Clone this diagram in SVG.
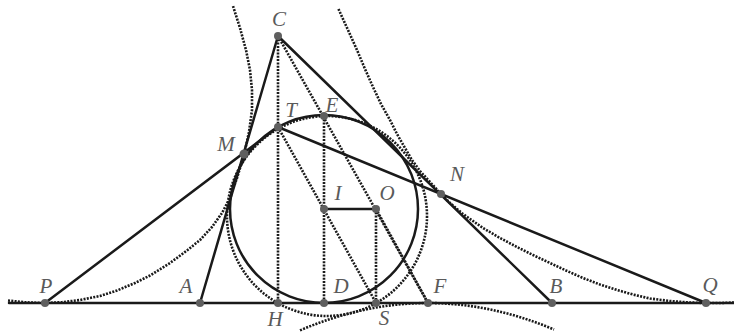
<svg xmlns="http://www.w3.org/2000/svg" width="734" height="332" viewBox="0 0 734 332">
<style>
.sol{fill:none;stroke:#1a1a1a;stroke-width:2.5;stroke-linecap:round}
.dot{fill:none;stroke:#1a1a1a;stroke-width:2.6;stroke-dasharray:2 1.3;stroke-linejoin:round}
.pt{fill:#5f5f5f}
.lb{font-family:"Liberation Serif","DejaVu Serif",serif;font-style:italic;font-size:21px;fill:#5a5a5a;text-anchor:middle}
</style>
<rect width="734" height="332" fill="#ffffff"/>
<g id="connectors">
  <polyline class="dot" points="8,300.5 25,302.3 45,303 62,302.2 80,300 100,296 117,290.5 135,283 150,275.5 170,263 187,250.5 200,240 212,227 222,213 230,198 237,178 244,155 249,132 252,110 252,90 250,70 246,50 240,28 233,6"/>
  <polyline class="dot" points="734,302.5 720,303 706,303 690,302.5 670,301 650,298.5 633,294.5 617,290 600,284.5 583,278 566,270.5 550,263 533,255 517,247 500,238 483,228 463,214 450,203 441,194 430,182 420,171 412,160 405,148 397,134 390,120 381,104 373,87 365,69 357,50 348,30 338,8"/>
  <path class="dot" d="M300,330.4 Q427,276.1 554,329.5"/>
  <circle class="dot" cx="327" cy="216" r="100"/>
  <line class="dot" x1="278" y1="36" x2="278" y2="303"/>
  <line class="dot" x1="324" y1="116" x2="324" y2="303"/>
  <line class="dot" x1="376" y1="209" x2="376" y2="303"/>
  <line class="dot" x1="278" y1="127" x2="376" y2="303"/>
  <line class="dot" x1="278" y1="36" x2="428" y2="303"/>
  <line class="dot" x1="376" y1="209" x2="428" y2="303"/>
  <line class="sol" x1="9" y1="303" x2="734" y2="303"/>
  <circle class="sol" cx="324" cy="209" r="94"/>
  <line class="sol" x1="200" y1="303" x2="278" y2="36"/>
  <line class="sol" x1="278" y1="36" x2="552" y2="303"/>
  <line class="sol" x1="45" y1="303" x2="278" y2="127"/>
  <line class="sol" x1="278" y1="127" x2="706" y2="303"/>
  <line class="sol" x1="324" y1="209" x2="376" y2="209"/>
</g>
<g id="node-C"><circle class="pt" cx="278" cy="36" r="4"/><text class="lb" x="279" y="26">C</text></g>
<g id="node-T"><circle class="pt" cx="278" cy="127" r="4"/><text class="lb" x="291" y="117">T</text></g>
<g id="node-E"><circle class="pt" cx="324" cy="116" r="4"/><text class="lb" x="332" y="112">E</text></g>
<g id="node-M"><circle class="pt" cx="244" cy="154" r="4.5"/><text class="lb" x="226" y="151">M</text></g>
<g id="node-N"><circle class="pt" cx="441" cy="194" r="4"/><text class="lb" x="457" y="181">N</text></g>
<g id="node-I"><circle class="pt" cx="324" cy="209" r="4"/><text class="lb" x="338" y="200">I</text></g>
<g id="node-O"><circle class="pt" cx="376" cy="209" r="4"/><text class="lb" x="387" y="200">O</text></g>
<g id="node-P"><circle class="pt" cx="45" cy="303" r="4"/><text class="lb" x="46" y="293">P</text></g>
<g id="node-A"><circle class="pt" cx="200" cy="303" r="4"/><text class="lb" x="186" y="293">A</text></g>
<g id="node-H"><circle class="pt" cx="278" cy="303" r="4"/><text class="lb" x="275" y="326">H</text></g>
<g id="node-D"><circle class="pt" cx="324" cy="303" r="4"/><text class="lb" x="341" y="293">D</text></g>
<g id="node-S"><circle class="pt" cx="376" cy="303" r="4"/><text class="lb" x="384" y="325">S</text></g>
<g id="node-F"><circle class="pt" cx="428" cy="303" r="4"/><text class="lb" x="440" y="293">F</text></g>
<g id="node-B"><circle class="pt" cx="552" cy="303" r="4"/><text class="lb" x="556" y="293">B</text></g>
<g id="node-Q"><circle class="pt" cx="706" cy="303" r="4"/><text class="lb" x="710" y="292">Q</text></g>
</svg>
